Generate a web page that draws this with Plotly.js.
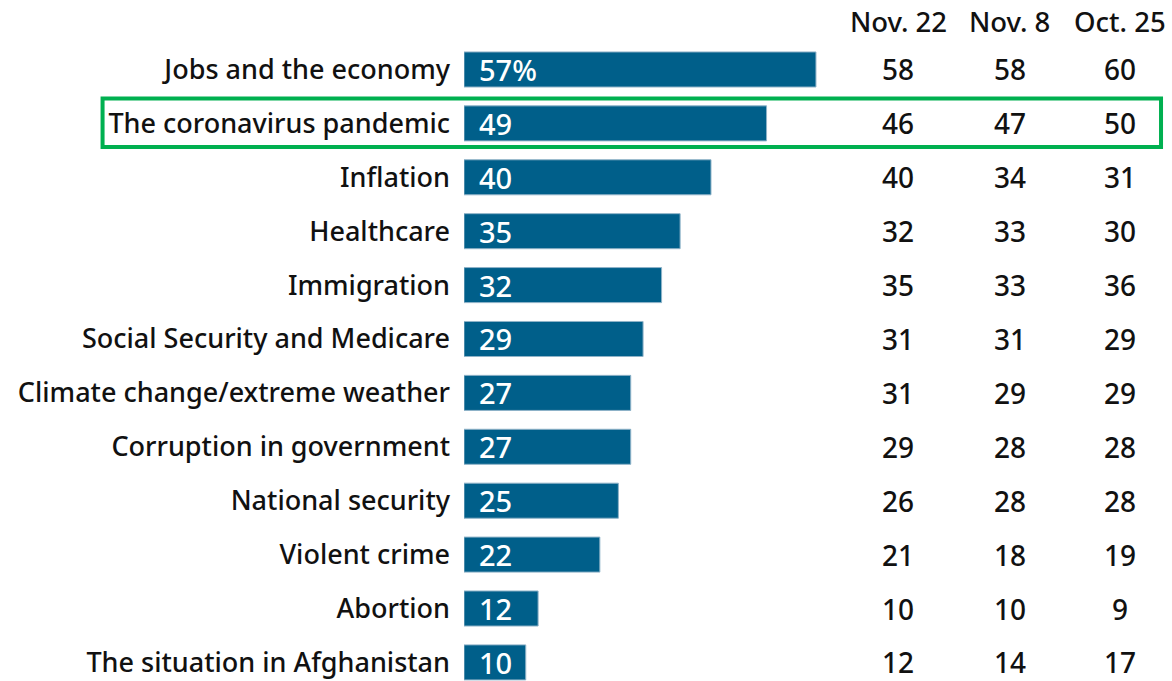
<!DOCTYPE html>
<html>
<head>
<meta charset="utf-8">
<script src="https://cdn.plot.ly/plotly-3.0.1.min.js"></script>
<style>html,body{margin:0;padding:0;background:#fff;}#chart{width:1172px;height:681px;}</style>
</head>
<body>
<div id="chart"></div>
<script>
const categories = ["Jobs and the economy","The coronavirus pandemic","Inflation","Healthcare","Immigration","Social Security and Medicare","Climate change/extreme weather","Corruption in government","National security","Violent crime","Abortion","The situation in Afghanistan"];
const current = [57,49,40,35,32,29,27,27,25,22,12,10];
const currentLabels = ["57%","49","40","35","32","29","27","27","25","22","12","10"];
const nov22 = [58,46,40,32,35,31,31,29,26,21,10,12];
const nov8 = [58,47,34,33,33,31,29,28,28,18,10,14];
const oct25 = [60,50,31,30,36,29,29,28,28,19,9,17];
const columnHeaders = ["Nov. 22","Nov. 8","Oct. 25"];
const highlighted = "The coronavirus pandemic";

const FONT = "'Noto Sans', 'Open Sans', sans-serif";
const colX = [0.613, 0.771, 0.927];
const columns = [nov22, nov8, oct25];

const annotations = [];
categories.forEach((c, i) => {
  annotations.push({x: 0, y: c, xref: 'x', yref: 'y', text: currentLabels[i], showarrow: false,
    xanchor: 'left', xshift: 13, font: {family: FONT, size: 29, weight: 500, color: '#ffffff'}});
  columns.forEach((col, k) => {
    annotations.push({x: colX[k], y: c, xref: 'paper', yref: 'y', text: String(col[i]), showarrow: false,
      xanchor: 'center', font: {family: FONT, size: 28, weight: 500, color: '#111111'}});
  });
});
columnHeaders.forEach((h, k) => {
  annotations.push({x: colX[k], y: 0.968, xref: 'paper', yref: 'paper', text: h, showarrow: false,
    xanchor: 'center', yanchor: 'middle', font: {family: FONT, size: 27.5, weight: 500, color: '#111111'}});
});

const hi = categories.indexOf(highlighted);

const data = [{
  type: 'bar', orientation: 'h', x: current, y: categories,
  marker: {color: '#005f8a', line: {color: '#8fb3c8', width: 1}},
  width: 0.65, hoverinfo: 'none'
}];

const layout = {
  width: 1172, height: 681,
  margin: {l: 464, r: 0, t: 0, b: 0},
  paper_bgcolor: '#ffffff', plot_bgcolor: '#ffffff',
  showlegend: false,
  xaxis: {range: [0, 114.66], visible: false, fixedrange: true},
  yaxis: {type: 'category', categoryorder: 'array', categoryarray: categories,
    range: [11.345, -1.289], showgrid: false, zeroline: false, showline: false,
    ticks: '', ticklabelstandoff: 13, automargin: false,
    tickfont: {family: FONT, size: 27, weight: 500, color: '#111111'}},
  annotations: annotations,
  shapes: [{type: 'rect', xref: 'paper', yref: 'y', x0: -0.5105, x1: 0.9845,
    y0: hi - 0.46, y1: hi + 0.44, line: {color: '#00b050', width: 4}, fillcolor: 'rgba(0,0,0,0)', layer: 'above'}]
};

Plotly.newPlot('chart', data, layout, {displayModeBar: false, staticPlot: true});
</script>
</body>
</html>
